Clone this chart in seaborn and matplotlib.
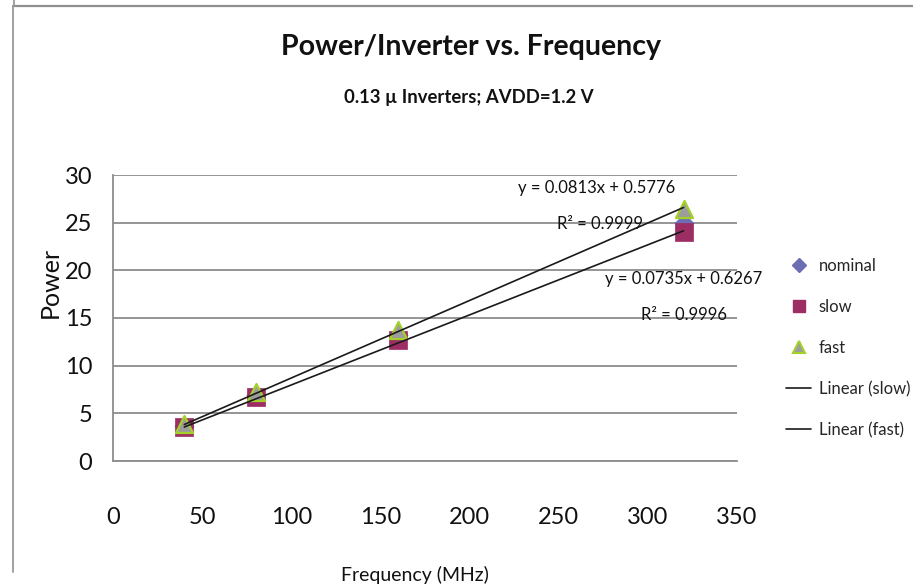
import numpy as np
import pandas as pd
import matplotlib
matplotlib.use("Agg")
import matplotlib.pyplot as plt
from matplotlib.lines import Line2D
import seaborn as sns

# Measured power per inverter at each clock frequency, for three process corners
freq_mhz = [40, 80, 160, 320]
power_nominal = [3.7, 6.9, 13.2, 25.0]
power_slow = [3.6, 6.7, 12.7, 24.0]
power_fast = [3.9, 7.2, 13.7, 26.4]

# Linear trendline coefficients (slope, intercept, R²)
fit_slow = (0.0735, 0.6267, 0.9996)
fit_fast = (0.0813, 0.5776, 0.9999)

x_ticks = [0, 50, 100, 150, 200, 250, 300, 350]
y_ticks = [0, 5, 10, 15, 20, 25, 30]

title = "Power/Inverter vs. Frequency"
subtitle = "0.13 \u00b5 Inverters; AVDD=1.2 V"
x_label = "Frequency (MHz)"
y_label = "Power"
legend_labels = ["nominal", "slow", "fast", "Linear (slow)", "Linear (fast)"]

sns.set_style("white")
FONT = ["Lato", "DejaVu Sans"]
plt.rcParams["font.family"] = FONT

df = pd.DataFrame({
    "freq": freq_mhz * 3,
    "power": power_nominal + power_slow + power_fast,
    "corner": ["nominal"] * 4 + ["slow"] * 4 + ["fast"] * 4,
})

c_nom = "#6d6db3"
c_slow = "#9c2e63"
c_fast_face = "#9c9c9c"
c_fast_edge = "#a3d12a"
grid_c = "#8c8c8c"
ink = "#111111"

fig = plt.figure(figsize=(9.13, 5.85), dpi=100)
W, H = 913, 585
ax = fig.add_axes([113 / W, 124 / H, 624 / W, 286 / H])

sns.scatterplot(data=df[df.corner == "nominal"], x="freq", y="power", ax=ax,
                marker="D", s=95, color=c_nom, edgecolor=c_nom, linewidth=0.5,
                zorder=3, legend=False)
sns.scatterplot(data=df[df.corner == "slow"], x="freq", y="power", ax=ax,
                marker="s", s=150, color=c_slow, edgecolor=c_slow, linewidth=0.5,
                zorder=4, legend=False)
sns.scatterplot(data=df[df.corner == "fast"], x="freq", y="power", ax=ax,
                marker="^", s=150, color=c_fast_face, edgecolor=c_fast_edge,
                linewidth=1.6, zorder=5, legend=False)

# Trendlines across the measured frequency span
span = np.array([min(freq_mhz), max(freq_mhz)], dtype=float)
for slope, icpt, _ in (fit_fast, fit_slow):
    sns.lineplot(x=span, y=slope * span + icpt, ax=ax, color="#1a1a1a",
                 linewidth=1.2, zorder=6)

ax.set_xlim(0, 350)
ax.set_ylim(0, 30)
ax.set_xticks(x_ticks)
ax.set_yticks(y_ticks)
ax.set_xlabel("")
ax.set_ylabel("")
ax.tick_params(axis="both", length=0, labelsize=17, colors=ink)
ax.tick_params(axis="x", pad=33)
ax.tick_params(axis="y", pad=15)
ax.yaxis.grid(True, color=grid_c, linewidth=1.3)
ax.xaxis.grid(False)
for side in ("top", "right"):
    ax.spines[side].set_visible(False)
for side in ("left", "bottom"):
    ax.spines[side].set_color(grid_c)
    ax.spines[side].set_linewidth(1.3)

# Trendline equations
eq_kw = dict(fontsize=12, ha="center", va="center", color=ink, clip_on=False)
ax.text(271, 28.6, f"y = {fit_fast[0]}x + {fit_fast[1]}", **eq_kw)
ax.text(273, 24.9, f"R\u00b2 = {fit_fast[2]}", **eq_kw)
ax.text(320, 19.1, f"y = {fit_slow[0]}x + {fit_slow[1]}", **eq_kw)
ax.text(320, 15.3, f"R\u00b2 = {fit_slow[2]}", **eq_kw)

# Titles and axis labels
fig.text(471 / W, 1 - 47 / H, title, fontsize=20.5, fontweight="bold",
         ha="center", va="center", color=ink)
fig.text(469 / W, 1 - 97 / H, subtitle, fontsize=13.3, fontweight="bold",
         ha="center", va="center", color=ink)
fig.text(415 / W, 1 - 575 / H, x_label, fontsize=14, ha="center", va="center",
         color=ink)
fig.text(50 / W, 1 - 318 / H, y_label, fontsize=18, rotation=90,
         rotation_mode="anchor", ha="left", va="center", color=ink)

# Legend
handles = [
    Line2D([], [], linestyle="none", marker="D", markersize=7,
           markerfacecolor=c_nom, markeredgecolor=c_nom),
    Line2D([], [], linestyle="none", marker="s", markersize=8,
           markerfacecolor=c_slow, markeredgecolor=c_slow),
    Line2D([], [], linestyle="none", marker="^", markersize=8,
           markerfacecolor=c_fast_face, markeredgecolor=c_fast_edge,
           markeredgewidth=1.5),
    Line2D([], [], color="#1a1a1a", linewidth=1.2),
    Line2D([], [], color="#1a1a1a", linewidth=1.2),
]
fig.legend(handles, legend_labels, loc="upper left",
           bbox_to_anchor=(786 / W, 1 - 258 / H), frameon=False,
           fontsize=12, handlelength=1.5, handletextpad=0.45,
           labelspacing=1.5, borderpad=0, borderaxespad=0)

# Chart border
fig.add_artist(Line2D([13 / W, 1], [1 - 6 / H, 1 - 6 / H], color="#8f8f8f",
                      linewidth=1.6, transform=fig.transFigure))
fig.add_artist(Line2D([13 / W, 13 / W], [1 - 6 / H, 1 - 572 / H],
                      color="#9a9a9a", linewidth=1.3, transform=fig.transFigure))
fig.add_artist(Line2D([14 / W, 14 / W], [1, 1 - 6 / H], color="#9a9a9a",
                      linewidth=1.3, transform=fig.transFigure))

fig.savefig("out.png", dpi=100, facecolor="white")
